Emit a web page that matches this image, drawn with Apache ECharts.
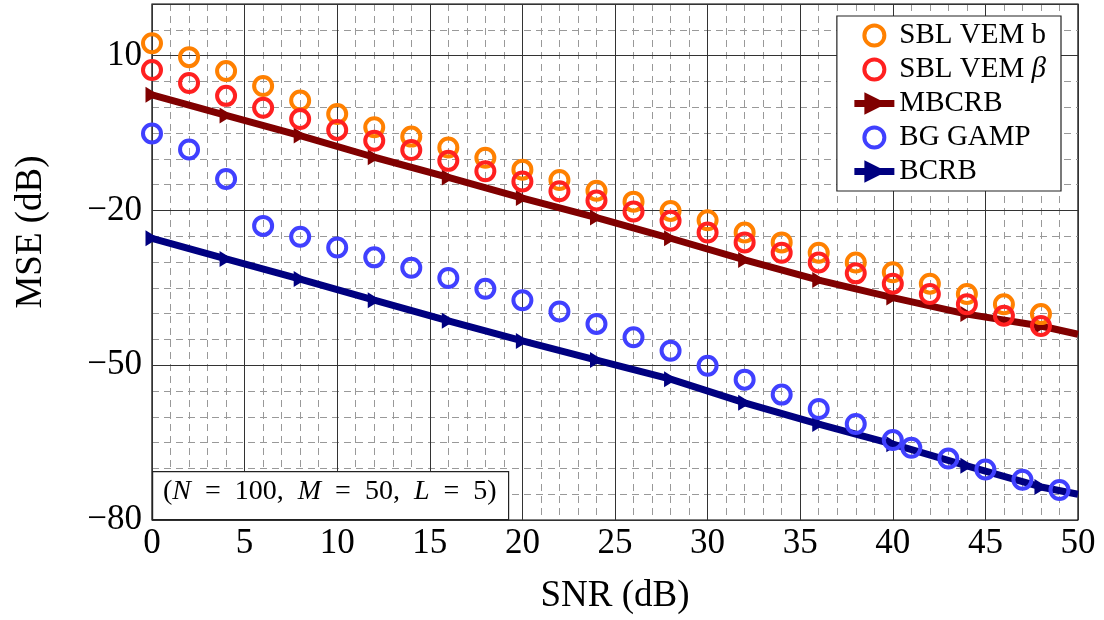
<!DOCTYPE html>
<html>
<head>
<meta charset="utf-8">
<script src="https://cdn.jsdelivr.net/npm/echarts@6/dist/echarts.min.js"></script>
<style>
  html, body { margin: 0; padding: 0; background: #fff; }
  #chart { width: 1104px; height: 620px; }
</style>
</head>
<body>
<div id="chart"></div>
<script>
// SNR values (dB) of the simulated points
const snrEven = [0, 2, 4, 6, 8, 10, 12, 14, 16, 18, 20, 22, 24, 26, 28, 30, 32, 34, 36, 38, 40, 42, 44, 46, 48]
const snrGamp = [0, 2, 4, 6, 8, 10, 12, 14, 16, 18, 20, 22, 24, 26, 28, 30, 32, 34, 36, 38, 40, 41, 43, 45, 47, 49]
const snrBound = [0, 4, 8, 12, 16, 20, 24, 28, 32, 36, 40, 44, 48, 50]

// MSE (dB)
const vemB = [12.4, 9.7, 7.0, 4.1, 1.3, -1.3, -3.9, -5.7, -7.8, -9.8, -12.1, -14.1, -16.2, -18.3, -20.1, -21.9, -24.3, -26.2, -28.2, -30.1, -32.0, -34.2, -36.2, -38.2, -40.1]
const vemBeta = [7.2, 4.7, 2.2, -0.1, -2.3, -4.4, -6.5, -8.3, -10.4, -12.4, -14.4, -16.3, -18.1, -20.2, -22.0, -24.3, -26.2, -28.2, -30.1, -32.2, -34.2, -36.2, -38.2, -40.4, -42.4]
const bgGamp = [-5.1, -8.2, -13.9, -23.0, -25.1, -27.2, -29.1, -31.1, -33.1, -35.2, -37.4, -39.6, -42.0, -44.6, -47.2, -50.1, -52.8, -55.7, -58.5, -61.4, -64.5, -66.0, -68.1, -70.2, -72.2, -74.2]
const mbcrb = [2.4, -1.6, -5.5, -9.7, -13.6, -17.6, -21.4, -25.4, -29.6, -33.5, -36.9, -40.1, -42.4, -44.0]
const bcrb = [-25.4, -29.4, -33.3, -37.4, -41.4, -45.3, -49.0, -52.7, -57.3, -61.4, -65.3, -69.5, -73.6, -75.0]

const FONT = "'Liberation Serif', 'DejaVu Serif', serif"

function pairs(xs, ys) {
  return xs.map((x, i) => [x, ys[i]])
}
// bound curves: marker on every point except the last one (x = 50)
function boundPairs(xs, ys) {
  return xs.map((x, i) =>
    i === xs.length - 1 ? { value: [x, ys[i]], symbol: "none" } : [x, ys[i]]
  )
}
function minus(v) {
  return v < 0 ? "\u2212" + Math.abs(v) : String(v)
}

function circleSeries(name, data, color) {
  return {
    name: name,
    type: "scatter",
    data: data,
    symbol: "circle",
    symbolSize: 18,
    itemStyle: { color: "rgba(255,255,255,0)", borderColor: color, borderWidth: 4, opacity: 1 },
    z: 5
  }
}
function boundSeries(name, data, color) {
  return {
    name: name,
    type: "line",
    data: data,
    symbol: "triangle",
    symbolRotate: -90,
    symbolSize: [16, 13],
    showAllSymbol: true,
    lineStyle: { color: color, width: 7 },
    itemStyle: { color: color, borderColor: color, borderWidth: 0 },
    z: 4
  }
}

const chart = echarts.init(document.getElementById("chart"))
chart.setOption({
  animation: false,
  backgroundColor: "#fff",
  grid: {
    left: 152,
    right: 26,
    top: 4,
    bottom: 100,
    outerBoundsMode: "none",
    containLabel: false,
    show: true,
    borderColor: "#000",
    borderWidth: 1.2,
    backgroundColor: "transparent"
  },
  legend: {
    orient: "vertical",
    right: 43,
    top: 16,
    backgroundColor: "#fff",
    borderColor: "#222",
    borderWidth: 1.2,
    padding: [5, 15, 5, 14],
    itemWidth: 40,
    itemHeight: 20,
    itemGap: 5,
    itemStyle: { borderWidth: 4 },
    lineStyle: { width: 7 },
    data: ["SBL VEM b", "SBL VEM β", "MBCRB", "BG GAMP", "BCRB"],
    formatter: function (name) {
      return name === "SBL VEM β" ? "{n|SBL VEM }{i|β}" : name
    },
    textStyle: {
      fontFamily: FONT,
      fontSize: 29,
      lineHeight: 28,
      color: "#000",
      rich: {
        n: { fontFamily: FONT, fontSize: 29, lineHeight: 28, color: "#000" },
        i: { fontFamily: FONT, fontSize: 29, lineHeight: 28, fontStyle: "italic", color: "#000" }
      }
    }
  },
  xAxis: {
    type: "value",
    min: 0,
    max: 50,
    interval: 5,
    name: "SNR (dB)",
    nameLocation: "middle",
    nameGap: 58,
    nameTextStyle: { fontFamily: FONT, fontSize: 37, color: "#000" },
    axisLine: { show: false },
    axisTick: { show: false },
    axisLabel: { fontFamily: FONT, fontSize: 35, color: "#000", margin: 6 },
    splitLine: { show: true, lineStyle: { color: "#333", width: 1 } },
    minorTick: { show: false, splitNumber: 5 },
    minorSplitLine: { show: true, lineStyle: { color: "#999", width: 1, type: [7, 5] } }
  },
  yAxis: [
    {
      type: "value",
      min: -80,
      max: 20,
      interval: 30,
      name: "MSE (dB)",
      nameLocation: "middle",
      nameGap: 102,
      nameTextStyle: { fontFamily: FONT, fontSize: 37, color: "#000", padding: [0, 0, 0, 60] },
      axisLine: { show: false },
      axisTick: { show: false },
      axisLabel: {
        fontFamily: FONT,
        fontSize: 35,
        color: "#000",
        margin: 10,
        showMaxLabel: false,
        formatter: minus
      },
      splitLine: { show: true, lineStyle: { color: "#333", width: 1 } },
      z: 2
    },
    {
      type: "value",
      min: -80,
      max: 20,
      interval: 5,
      position: "left",
      offset: 0,
      axisLine: { show: false },
      axisTick: { show: false },
      axisLabel: { show: false },
      splitLine: { show: true, lineStyle: { color: "#999", width: 1, type: [7, 5] } },
      z: 0
    }
  ],
  series: [
    circleSeries("SBL VEM b", pairs(snrEven, vemB), "#ff8000"),
    circleSeries("SBL VEM β", pairs(snrEven, vemBeta), "#ff2020"),
    boundSeries("MBCRB", boundPairs(snrBound, mbcrb), "#800000"),
    circleSeries("BG GAMP", pairs(snrGamp, bgGamp), "#4040ff"),
    boundSeries("BCRB", boundPairs(snrBound, bcrb), "#000080")
  ],
  graphic: [
    {
      type: "rect",
      left: 152,
      top: 471,
      z: 10,
      shape: { width: 356, height: 48 },
      style: { fill: "#fff", stroke: "#222", lineWidth: 1.2 }
    },
    {
      type: "text",
      left: 163,
      top: 478,
      z: 11,
      style: {
        text: "({i|N}\u2002=\u2002100,  {i|M}\u2002=\u200250,  {i|L}\u2002=\u20025)",
        fontFamily: FONT,
        fontSize: 28,
        fill: "#000",
        rich: {
          i: { fontFamily: FONT, fontSize: 28, fontStyle: "italic", fill: "#000" }
        }
      }
    }
  ]
})
</script>
</body>
</html>
